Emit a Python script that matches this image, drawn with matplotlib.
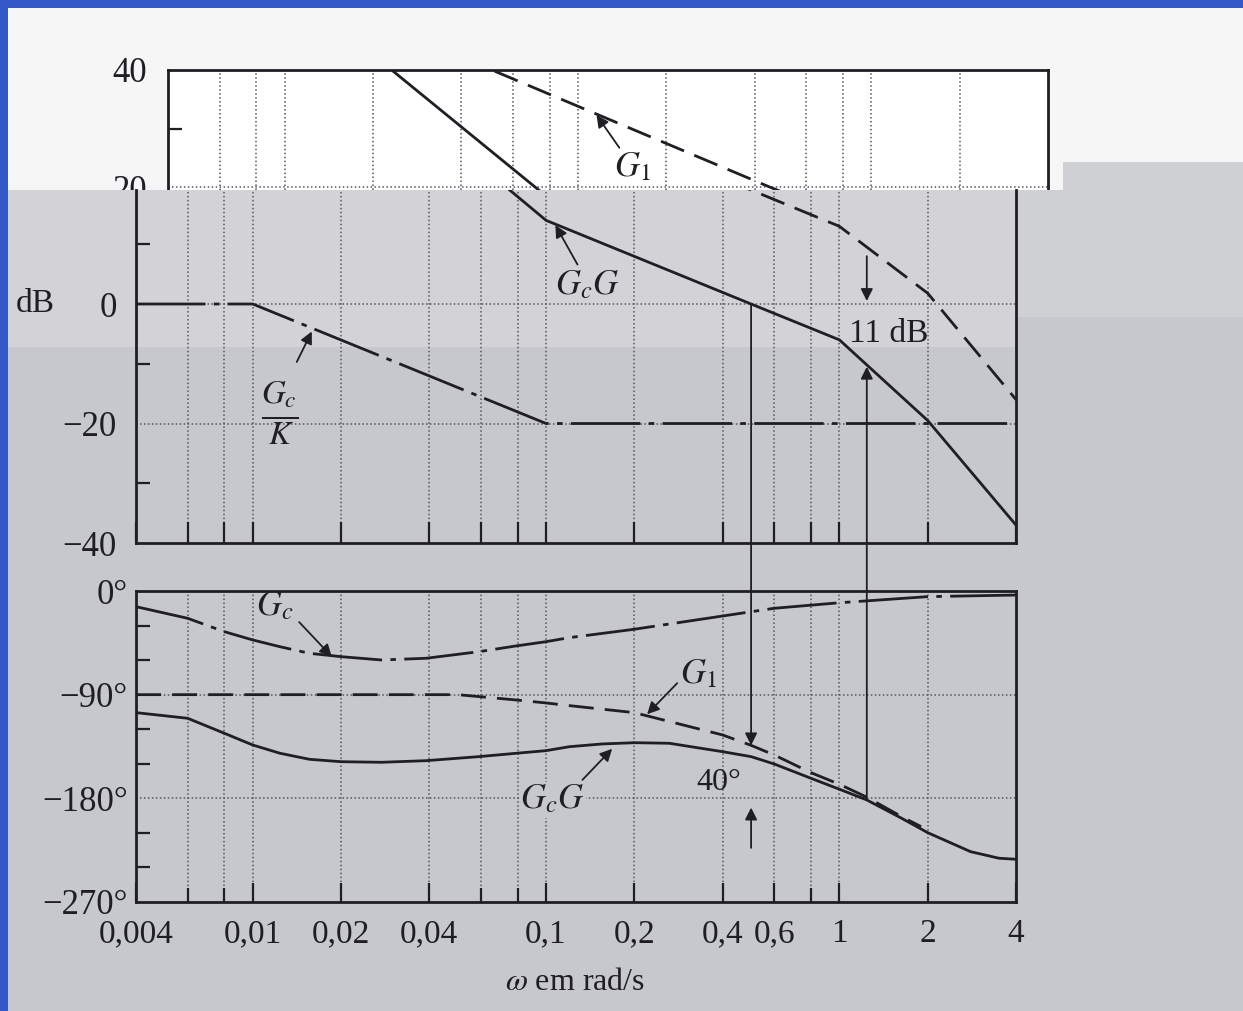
import matplotlib
matplotlib.use("Agg")
import matplotlib.pyplot as plt
from matplotlib.patches import Rectangle, ConnectionPatch
from matplotlib.ticker import NullLocator

plt.rcParams["font.family"] = ["Liberation Serif", "DejaVu Serif"]
plt.rcParams["mathtext.fontset"] = "stix"

W, H = 1243, 1011

# magnitude curves (dB)
mag_gcg_w = [0.02, 0.1, 0.5, 1, 2, 4]
mag_gcg_db = [42.6, 14, 0, -6, -19.5, -37]
mag_g1_w = [0.04, 0.45, 1, 2, 4]
mag_g1_db = [42.2, 20, 13, 1.8, -16]
mag_gck_w = [0.004, 0.01, 0.1, 4]
mag_gck_db = [0, 0, -20, -20]

# phase curves (deg)
ph_gc_w = [0.004, 0.006, 0.008, 0.01, 0.0124, 0.0156, 0.02, 0.0275, 0.039, 0.059, 0.079, 0.1, 0.12,
           0.2, 0.4, 0.6, 1, 2, 4]
ph_gc = [-13.6, -23.7, -35.3, -42.5, -48.4, -54.1, -57, -59.9, -58.4, -52.7, -47.7, -44, -40.5,
         -33.2, -21.7, -15, -10.2, -4.9, -3.5]
ph_g1_w = [0.004, 0.05, 0.079, 0.1, 0.12, 0.2, 0.4, 0.5, 0.6, 0.8, 1, 1.24, 1.63, 1.9]
ph_g1 = [-90, -90, -94.6, -97.2, -99.5, -105.6, -125, -134, -142.4, -157.7, -167.8, -179, -195.9, -204.6]
ph_gcg_w = [0.004, 0.006, 0.008, 0.01, 0.0124, 0.0156, 0.02, 0.0275, 0.039, 0.059, 0.079, 0.1, 0.12,
            0.155, 0.2, 0.263, 0.4, 0.5, 0.6, 0.8, 1, 1.24, 1.63, 2, 2.8, 3.5, 4]
ph_gcg = [-105.6, -110.5, -123.5, -133.7, -140.9, -146.1, -148.2, -148.7, -147.3, -143.8, -140.9, -138.6, -135.2,
          -132.8, -131.7, -132.2, -139.5, -143.8, -150.2, -162.6, -172.1, -181.4, -197.3, -209.8, -226.3, -232, -232.9]

grid_w = [0.006, 0.008, 0.01, 0.02, 0.04, 0.06, 0.08, 0.1, 0.2, 0.4, 0.6, 0.8, 1, 2]
xtick_w = [0.004, 0.01, 0.02, 0.04, 0.1, 0.2, 0.4, 0.6, 1, 2, 4]
xtick_labels = ["0,004", "0,01", "0,02", "0,04", "0,1", "0,2", "0,4", "0,6", "1", "2", "4"]
xtick_minor_w = [0.006, 0.008, 0.06, 0.08, 0.8]

INK = "#1e1e24"
GRID = "#55555c"
BG_LOW = "#c7c8cd"
BG_BAND = "#d3d3d7"
BG_TOP = "#f6f6f7"
BLUE = "#3358c5"


def frac(x0, y0, x1, y1):
    return [x0 / W, 1 - y1 / H, (x1 - x0) / W, (y1 - y0) / H]


def add_rect(fig, x0, y0, x1, y1, color, z):
    fig.add_artist(Rectangle((x0 / W, 1 - y1 / H), (x1 - x0) / W, (y1 - y0) / H,
                             transform=fig.transFigure, facecolor=color, edgecolor="none", zorder=z))


fig = plt.figure(figsize=(W / 100, H / 100), dpi=100, facecolor=BG_LOW)

add_rect(fig, 0, 0, W, 190, BG_TOP, 0.1)
add_rect(fig, 1063, 162, W, 190, "#cfd0d4", 0.2)
add_rect(fig, 0, 190, 1017, 347, BG_BAND, 1.5)
add_rect(fig, 1017, 190, W, 317, "#cfd0d4", 1.5)
add_rect(fig, 0, 0, 8, H, BLUE, 10)
add_rect(fig, 0, 0, W, 8, BLUE, 10)

ax_top = fig.add_axes(frac(168, 70, 1048, 190), facecolor="white", zorder=1)
ax_mag = fig.add_axes(frac(136, 190, 1016, 543), facecolor="none", zorder=2)
ax_ph = fig.add_axes(frac(136, 591, 1016, 902), facecolor="none", zorder=2)

dotted = dict(color=GRID, lw=1.1, linestyle=(0, (1, 1.6)), zorder=1)
lw = 2.0

for ax in (ax_top, ax_mag, ax_ph):
    ax.set_xscale("log")
    ax.set_xlim(0.004, 4)
    ax.xaxis.set_minor_locator(NullLocator())
    for w in grid_w:
        ax.axvline(w, **dotted)
    for s in ax.spines.values():
        s.set_linewidth(2.0)
        s.set_color(INK)
    ax.tick_params(axis="y", which="major", length=0, labelsize=25, colors=INK)
    ax.tick_params(axis="y", which="minor", direction="in", length=10, width=1.6, color=INK)
    ax.tick_params(axis="x", which="both", direction="in", width=1.6, color=INK,
                   labelsize=24, labelcolor=INK, top=False)

# top (shifted) part of the magnitude plot
ax_top.set_ylim(19.49, 40)
ax_top.spines["bottom"].set_visible(False)
ax_top.set_xticks([])
ax_top.set_yticks([40, 20])
ax_top.set_yticklabels(["40", "20"])
ax_top.set_yticks([30], minor=True)
ax_top.tick_params(axis="y", which="major", pad=15)
ax_top.axhline(20, **dotted)
ax_top.plot(mag_gcg_w, mag_gcg_db, color=INK, lw=lw, zorder=3)
ax_top.plot(mag_g1_w, mag_g1_db, color=INK, lw=lw, linestyle=(0, (9, 4)), zorder=3)
ax_top.text(0.1532, 23.3, "$G_1$", fontsize=25, ha="center", va="center", color=INK)
ax_top.annotate("", xy=(0.1156, 32.3), xytext=(0.1383, 26.7),
                arrowprops=dict(arrowstyle="-|>", color=INK, lw=1.3, mutation_scale=18, shrinkA=0, shrinkB=0))

# lower magnitude part
ax_mag.set_ylim(-40, 19.08)
ax_mag.spines["top"].set_visible(False)
ax_mag.set_xticks(xtick_w + xtick_minor_w)
ax_mag.set_xticklabels([])
ax_mag.tick_params(axis="x", length=15)
ax_mag.set_yticks([0, -20, -40])
ax_mag.set_yticklabels(["0", "\u221220", "\u221240"])
ax_mag.set_yticks([10, -10, -30], minor=True)
ax_mag.tick_params(axis="y", which="major", pad=14)
ax_mag.axhline(0, **dotted)
ax_mag.axhline(-20, **dotted)
ax_mag.plot(mag_gcg_w, mag_gcg_db, color=INK, lw=lw, zorder=3)
ax_mag.plot(mag_g1_w, mag_g1_db, color=INK, lw=lw, linestyle=(0, (9, 4)), zorder=3)
ax_mag.plot(mag_gck_w, mag_gck_db, color=INK, lw=lw, linestyle=(0, (25, 3, 2, 3)), zorder=3)

arrow = dict(arrowstyle="-|>", color=INK, lw=1.3, mutation_scale=18, shrinkA=0, shrinkB=0)
ax_mag.text(0.1384, 3.0, "$G_cG$", fontsize=25, ha="center", va="center", color=INK)
ax_mag.annotate("", xy=(0.1076, 13.2), xytext=(0.128, 6.6), arrowprops=arrow)
ax_mag.text(0.0124, -18.2, r"$\frac{G_c}{K}$", fontsize=34, ha="center", va="center", color=INK)
ax_mag.annotate("", xy=(0.0159, -4.6), xytext=(0.01413, -9.7), arrowprops=arrow)
ax_mag.annotate("", xy=(1.24, 0.5), xytext=(1.24, 8.0), arrowprops=arrow)
ax_mag.text(1.47, -4.9, "11 dB", fontsize=24, ha="center", va="center", color=INK)

# phase plot
ax_ph.set_ylim(-270, 0)
ax_ph.set_xticks(xtick_w)
ax_ph.set_xticklabels(xtick_labels)
ax_ph.set_xticks(xtick_minor_w, minor=True)
ax_ph.tick_params(axis="x", which="major", length=14, pad=12)
ax_ph.tick_params(axis="x", which="minor", length=10)
ax_ph.set_yticks([0, -90, -180, -270])
ax_ph.set_yticklabels(["0\u00b0", "\u221290\u00b0", "\u2212180\u00b0", "\u2212270\u00b0"])
ax_ph.set_yticks([-30, -60, -120, -150, -210, -240], minor=True)
ax_ph.tick_params(axis="y", which="major", pad=6)
ax_ph.axhline(-90, **dotted)
ax_ph.axhline(-180, **dotted)
ax_ph.plot(ph_gc_w, ph_gc, color=INK, lw=lw, linestyle=(0, (25, 3, 2, 3)), zorder=3)
ax_ph.plot(ph_g1_w, ph_g1, color=INK, lw=lw, linestyle=(0, (9, 4)), zorder=3)
ax_ph.plot(ph_gcg_w, ph_gcg, color=INK, lw=lw, zorder=3)

ax_ph.text(0.0119, -14, "$G_c$", fontsize=25, ha="center", va="center", color=INK)
ax_ph.annotate("", xy=(0.0186, -57), xytext=(0.0144, -27), arrowprops=arrow)
ax_ph.text(0.33, -73, "$G_1$", fontsize=25, ha="center", va="center", color=INK)
ax_ph.annotate("", xy=(0.221, -107), xytext=(0.28, -80), arrowprops=arrow)
ax_ph.text(0.1052, -181.4, "$G_cG$", fontsize=25, ha="center", va="center", color=INK,
           bbox=dict(facecolor=BG_LOW, edgecolor="none", pad=1), zorder=4)
ax_ph.annotate("", xy=(0.168, -137), xytext=(0.133, -164), arrowprops=arrow)
ax_ph.annotate("", xy=(0.5, -188), xytext=(0.5, -223), arrowprops=arrow)
ax_ph.text(0.389, -166.5, "40\u00b0", fontsize=23, ha="center", va="center", color=INK)

# lines running across both plots
con_pm = ConnectionPatch(xyA=(0.5, 0), coordsA=ax_mag.transData, xyB=(0.5, -134),
                         coordsB=ax_ph.transData, arrowstyle="-|>", color=INK, lw=1.3,
                         mutation_scale=18, shrinkA=0, shrinkB=0, zorder=5)
fig.add_artist(con_pm)
con_gm = ConnectionPatch(xyA=(1.24, -180), coordsA=ax_ph.transData, xyB=(1.24, -10.5),
                         coordsB=ax_mag.transData, arrowstyle="-|>", color=INK, lw=1.3,
                         mutation_scale=18, shrinkA=0, shrinkB=0, zorder=5)
fig.add_artist(con_gm)

fig.text(35 / W, 1 - 304 / H, "dB", fontsize=24, ha="center", va="center", color=INK)
fig.text(575 / W, 1 - 983 / H, r"$\omega$ em rad/s", fontsize=23, ha="center", va="center", color=INK)

fig.savefig("out.png", dpi=100, facecolor=fig.get_facecolor())
